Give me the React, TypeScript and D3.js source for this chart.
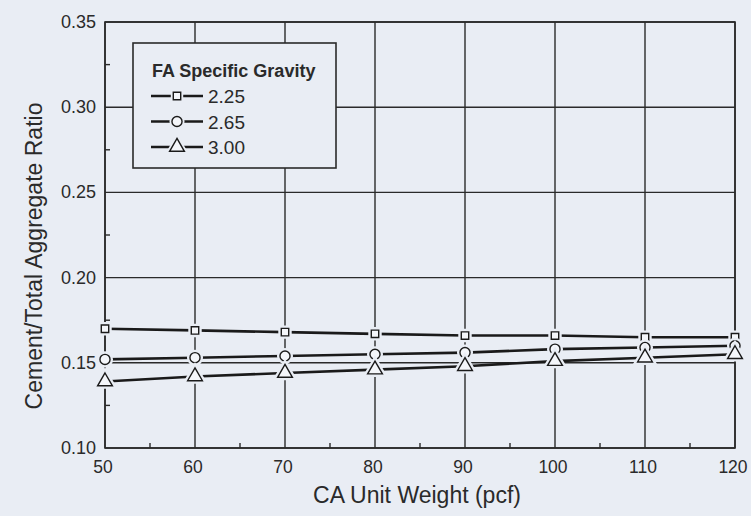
import * as d3 from "d3";
import React, { useRef, useEffect } from "react";

const width = 751;
const height = 516;
const margin = { top: 22, right: 16, bottom: 68, left: 105 };

// CA unit weight (pcf)
const unitWeights = [50, 60, 70, 80, 90, 100, 110, 120];
// cement / total aggregate ratio for each FA specific gravity
const sg225 = [0.17, 0.169, 0.168, 0.167, 0.166, 0.166, 0.165, 0.165];
const sg265 = [0.152, 0.153, 0.154, 0.155, 0.156, 0.158, 0.159, 0.16];
const sg300 = [0.139, 0.142, 0.144, 0.146, 0.148, 0.151, 0.153, 0.155];

const seriesNames = ["2.25", "2.65", "3.00"];
const seriesValues = [sg225, sg265, sg300];
const symbols = [d3.symbolSquare, d3.symbolCircle, d3.symbolTriangle];
const symbolSizes = [55, 80, 95];

const xTicks = [50, 60, 70, 80, 90, 100, 110, 120];
const yTicks = [0.1, 0.15, 0.2, 0.25, 0.3, 0.35];

const bg = "#e9edf4";
const ink = "#2a2a2a";
const font = "'Liberation Sans', Arial, sans-serif";

const App = () => {
  const svgRef = useRef<SVGSVGElement | null>(null);

  const xScale = d3
    .scaleLinear()
    .domain([50, 120])
    .range([margin.left, width - margin.right]);
  const yScale = d3
    .scaleLinear()
    .domain([0.1, 0.35])
    .range([height - margin.bottom, margin.top]);

  useEffect(() => {
    const svg = d3.select(svgRef.current);
    svg.selectAll("*").remove();

    svg.append("rect").attr("width", width).attr("height", height).attr("fill", bg);

    const x0 = xScale.range()[0];
    const x1 = xScale.range()[1];
    const y0 = yScale.range()[0];
    const y1 = yScale.range()[1];

    // grid
    const grid = svg.append("g").attr("stroke", ink).attr("stroke-width", 1.4);
    grid
      .selectAll("line.v")
      .data(xTicks)
      .join("line")
      .attr("class", "v")
      .attr("x1", (d) => xScale(d))
      .attr("x2", (d) => xScale(d))
      .attr("y1", y0)
      .attr("y2", y1);
    grid
      .selectAll("line.h")
      .data(yTicks)
      .join("line")
      .attr("class", "h")
      .attr("x1", x0)
      .attr("x2", x1)
      .attr("y1", (d) => yScale(d))
      .attr("y2", (d) => yScale(d));

    // minor ticks, pointing inward
    const minorX = d3.range(55, 120, 10);
    const minorY = d3.range(0.125, 0.35, 0.05);
    grid
      .selectAll("line.mx")
      .data(minorX)
      .join("line")
      .attr("class", "mx")
      .attr("x1", (d) => xScale(d))
      .attr("x2", (d) => xScale(d))
      .attr("y1", y0)
      .attr("y2", y0 - 5);
    grid
      .selectAll("line.my")
      .data(minorY)
      .join("line")
      .attr("class", "my")
      .attr("x1", x0)
      .attr("x2", x0 + 5)
      .attr("y1", (d) => yScale(d))
      .attr("y2", (d) => yScale(d));

    // frame
    svg
      .append("rect")
      .attr("x", x0)
      .attr("y", y1)
      .attr("width", x1 - x0)
      .attr("height", y0 - y1)
      .attr("fill", "none")
      .attr("stroke", ink)
      .attr("stroke-width", 1.6);

    // tick labels
    svg
      .append("g")
      .selectAll("text")
      .data(xTicks)
      .join("text")
      .attr("x", (d) => xScale(d) - 2)
      .attr("y", y0 + 25)
      .attr("text-anchor", "middle")
      .attr("font-family", font)
      .attr("font-size", 17.5)
      .attr("fill", ink)
      .text((d) => d);
    svg
      .append("g")
      .selectAll("text")
      .data(yTicks)
      .join("text")
      .attr("x", x0 - 9)
      .attr("y", (d) => yScale(d) + 6)
      .attr("text-anchor", "end")
      .attr("font-family", font)
      .attr("font-size", 18)
      .attr("fill", ink)
      .text((d) => d3.format(".2f")(d));

    // axis titles
    svg
      .append("text")
      .attr("x", 417)
      .attr("y", 503)
      .attr("text-anchor", "middle")
      .attr("font-family", font)
      .attr("font-size", 23)
      .attr("fill", ink)
      .text("CA Unit Weight (pcf)");
    svg
      .append("text")
      .attr("transform", `translate(42, 256) rotate(-90)`)
      .attr("text-anchor", "middle")
      .attr("font-family", font)
      .attr("font-size", 23)
      .attr("fill", ink)
      .text("Cement/Total Aggregate Ratio");

    // series
    const line = d3
      .line<number>()
      .x((d, i) => xScale(unitWeights[i]))
      .y((d) => yScale(d));

    seriesValues.forEach((vals, s) => {
      const g = svg.append("g");
      g.append("path")
        .attr("d", line(vals))
        .attr("fill", "none")
        .attr("stroke", "#1a1a1a")
        .attr("stroke-width", 2.6);
      const sym = d3.symbol().type(symbols[s]).size(symbolSizes[s]);
      g.selectAll("path.halo")
        .data(vals)
        .join("path")
        .attr("class", "halo")
        .attr("transform", (d, i) => `translate(${xScale(unitWeights[i])},${yScale(d)})`)
        .attr("d", sym())
        .attr("fill", bg)
        .attr("stroke", bg)
        .attr("stroke-width", 6);
      g.selectAll("path.mk")
        .data(vals)
        .join("path")
        .attr("class", "mk")
        .attr("transform", (d, i) => `translate(${xScale(unitWeights[i])},${yScale(d)})`)
        .attr("d", sym())
        .attr("fill", "#f4f6fa")
        .attr("stroke", "#1a1a1a")
        .attr("stroke-width", 1.4);
    });

    // legend
    const lg = svg.append("g").attr("transform", "translate(133, 43)");
    lg.append("rect")
      .attr("width", 203)
      .attr("height", 125)
      .attr("fill", bg)
      .attr("stroke", ink)
      .attr("stroke-width", 1.6);
    lg.append("text")
      .attr("x", 19)
      .attr("y", 34)
      .attr("font-family", font)
      .attr("font-size", 18)
      .attr("font-weight", "bold")
      .attr("fill", ink)
      .text("FA Specific Gravity");
    seriesNames.forEach((name, s) => {
      const cy = 53 + s * 25.5;
      const row = lg.append("g");
      row.append("line")
        .attr("x1", 18)
        .attr("x2", 70)
        .attr("y1", cy)
        .attr("y2", cy)
        .attr("stroke", "#1a1a1a")
        .attr("stroke-width", 2.4);
      const sym = d3.symbol().type(symbols[s]).size(symbolSizes[s]);
      row.append("path")
        .attr("transform", `translate(44, ${cy})`)
        .attr("d", sym())
        .attr("fill", bg)
        .attr("stroke", bg)
        .attr("stroke-width", 5);
      row.append("path")
        .attr("transform", `translate(44, ${cy})`)
        .attr("d", sym())
        .attr("fill", "#f4f6fa")
        .attr("stroke", "#1a1a1a")
        .attr("stroke-width", 1.4);
      row.append("text")
        .attr("x", 75)
        .attr("y", cy + 7)
        .attr("font-family", font)
        .attr("font-size", 19)
        .attr("fill", ink)
        .text(name);
    });
  }, []);

  return (
    <svg
      ref={svgRef}
      width={width}
      height={height}
      style={{ position: "absolute", left: 0, top: 0 }}
    />
  );
};

export default App;
